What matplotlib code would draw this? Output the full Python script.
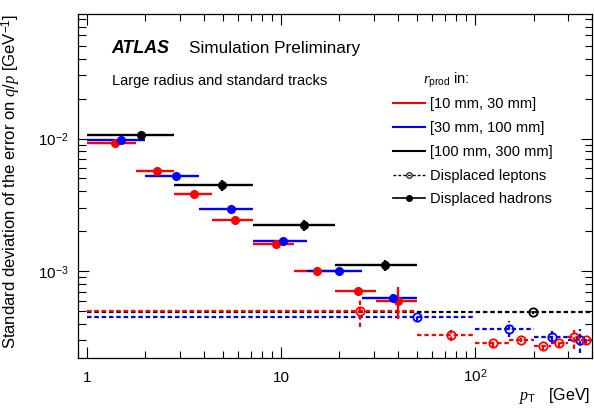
import numpy as np
import matplotlib
matplotlib.use('Agg')
import matplotlib.pyplot as plt
from matplotlib.lines import Line2D
from matplotlib.ticker import FixedLocator, FixedFormatter, LogLocator, NullFormatter

plt.rcParams['font.family'] = ['Liberation Sans', 'DejaVu Sans']
plt.rcParams['mathtext.fontset'] = 'custom'
plt.rcParams['mathtext.rm'] = 'Liberation Sans'
plt.rcParams['mathtext.it'] = 'Liberation Serif:italic'
plt.rcParams['mathtext.bf'] = 'Liberation Sans:bold'

# displaced hadrons (filled markers), bins in pT [GeV]
red_h_lo = [1, 1.8, 2.8, 4.4, 7.2, 11.6, 18.9, 30.9]
red_h_hi = [1.8, 2.8, 4.4, 7.2, 11.6, 18.9, 30.9, 50]
red_h_x = [1.40, 2.30, 3.58, 5.79, 9.4, 15.3, 24.8, 40.0]
red_h_y = [0.00928, 0.00568, 0.00381, 0.00243, 0.00160, 0.000995, 0.000708, 0.000594]
red_h_elo = [0.0004, 0.00015, 0.0001, 0.00006, 0.00005, 0.00007, 0.00002, 0.00016]
red_h_ehi = [0.0004, 0.00015, 0.0001, 0.00006, 0.00005, 0.00007, 0.00002, 0.00017]

blue_h_lo = [1, 2.0, 3.8, 7.2, 13.6, 26.1]
blue_h_hi = [2.0, 3.8, 7.2, 13.6, 26.1, 50]
blue_h_x = [1.49, 2.89, 5.5, 10.3, 19.9, 37.9]
blue_h_y = [0.00983, 0.00518, 0.00294, 0.00169, 0.000995, 0.000629]
blue_h_err = [0.0003, 0.00025, 0.00012, 0.00006, 0.00005, 0.00004]

black_h_lo = [1, 2.8, 7.2, 19]
black_h_hi = [2.8, 7.2, 19, 50]
black_h_x = [1.89, 4.97, 13.1, 34.5]
black_h_y = [0.01066, 0.00443, 0.00222, 0.00111]
black_h_err = [0.0007, 0.0004, 0.0002, 0.0001]

# displaced leptons (open markers)
red_l_lo = [1, 50, 100, 150, 200, 245, 300, 350]
red_l_hi = [50, 100, 150, 200, 245, 300, 350, 400]
red_l_x = [25.4, 75.2, 124, 173, 223, 272, 323, 374]
red_l_y = [0.000500, 0.000327, 0.000286, 0.000301, 0.000274, 0.000286, 0.000317, 0.000301]
red_l_err = [0.00012, 0.00003, 0.00002, 0.00001, 0.00002, 0.00002, 0.00006, 0.00002]

blue_l_lo = [1, 100, 200, 300]
blue_l_hi = [100, 200, 300, 400]
blue_l_x = [50.2, 149, 250, 347]
blue_l_y = [0.000453, 0.000368, 0.000321, 0.000303]
blue_l_err = [0.00003, 0.00005, 0.00003, 0.00006]

black_l_lo = [1]
black_l_hi = [400]
black_l_x = [198]
black_l_y = [0.000489]
black_l_err = [0.00001]

x_tick_vals = [1, 10, 100]
x_tick_labels = ['1', '10', '$10^{2}$']
y_tick_vals = [1e-3, 1e-2]
y_tick_labels = ['$10^{-3}$', '$10^{-2}$']

legend_labels = ['[10 mm, 30 mm]', '[30 mm, 100 mm]', '[100 mm, 300 mm]',
                 'Displaced leptons', 'Displaced hadrons']

W, H = 594, 412
fig = plt.figure(figsize=(W / 100, H / 100), dpi=100)
ax = fig.add_axes([78 / W, 1 - 358.3 / H, 514 / W, 344.3 / H])

dash = (0, (2, 1.3))


def draw(lo, hi, x, y, elo, ehi, color, lepton):
    x = np.array(x)
    xerr = [x - np.array(lo), np.array(hi) - x]
    if lepton:
        eb = ax.errorbar(x, y, xerr=xerr, yerr=[elo, ehi], fmt='o', color=color,
                         mfc='none', mec=color, ms=6, mew=1.3, elinewidth=1.6,
                         capsize=0, zorder=3)
        for c in eb[2]:
            c.set_linestyle(dash)
    else:
        ax.errorbar(x, y, xerr=xerr, yerr=[elo, ehi], fmt='o', color=color,
                    ms=5.5, elinewidth=1.7, capsize=0, zorder=4)


draw(red_h_lo, red_h_hi, red_h_x, red_h_y, red_h_elo, red_h_ehi, 'red', False)
draw(blue_h_lo, blue_h_hi, blue_h_x, blue_h_y, blue_h_err, blue_h_err, 'blue', False)
draw(black_h_lo, black_h_hi, black_h_x, black_h_y, black_h_err, black_h_err, 'black', False)
draw(black_l_lo, black_l_hi, black_l_x, black_l_y, black_l_err, black_l_err, 'black', True)
draw(blue_l_lo, blue_l_hi, blue_l_x, blue_l_y, blue_l_err, blue_l_err, 'blue', True)
draw(red_l_lo, red_l_hi, red_l_x, red_l_y, red_l_err, red_l_err, 'red', True)

ax.set_xscale('log')
ax.set_yscale('log')
ax.set_xlim(0.9, 400)
ax.set_ylim(2.2e-4, 0.087)

ax.xaxis.set_major_locator(FixedLocator(x_tick_vals))
ax.xaxis.set_major_formatter(FixedFormatter(x_tick_labels))
ax.xaxis.set_minor_locator(LogLocator(base=10, subs=np.arange(2, 10), numticks=20))
ax.xaxis.set_minor_formatter(NullFormatter())
ax.yaxis.set_major_locator(FixedLocator(y_tick_vals))
ax.yaxis.set_major_formatter(FixedFormatter(y_tick_labels))
ax.yaxis.set_minor_locator(LogLocator(base=10, subs=np.arange(2, 10), numticks=20))
ax.yaxis.set_minor_formatter(NullFormatter())

ax.tick_params(which='both', direction='in', top=True, right=True, width=0.8)
ax.tick_params(which='major', length=7.7)
ax.tick_params(which='minor', axis='x', length=4.8)
ax.tick_params(which='minor', axis='y', length=5.4)
ax.tick_params(axis='x', labelsize=11, pad=17)
ax.tick_params(axis='y', labelsize=11, pad=6.5)
for s in ax.spines.values():
    s.set_linewidth(0.9)

ax.set_ylabel('Standard deviation of the error on $q/p$ [GeV$^{-1}$]',
              fontsize=12, loc='top')
ax.yaxis.set_label_coords(-(78 - 23) / 514, 1.0)
ax.set_xlabel(r'$p_{\rm T}$   [GeV]', fontsize=11.5, loc='right')
ax.xaxis.set_label_coords(1 - 2 / 514, -(386 - 358.3) / 344.3)


def px(x, y):
    return x / W, 1 - y / H


fig.text(*px(111.7, 52.7), 'ATLAS', fontsize=12.8, fontweight='bold',
         fontstyle='italic', va='baseline')
fig.text(*px(189, 52.7), 'Simulation Preliminary', fontsize=12.3, va='baseline')
fig.text(*px(111.7, 85), 'Large radius and standard tracks', fontsize=10.5,
         va='baseline')
fig.text(*px(423, 84), r'$r_{\rm prod}$ in:', fontsize=10.5, va='baseline')

handles = [
    Line2D([], [], color='red', lw=1.5),
    Line2D([], [], color='blue', lw=1.5),
    Line2D([], [], color='black', lw=1.5),
    Line2D([], [], color='black', lw=1.0, ls=(0, (2, 1.5)), marker='o',
           mfc='none', ms=4, mew=0.8),
    Line2D([], [], color='black', lw=1.2, marker='o', ms=4),
]
fig.legend(handles, legend_labels, loc='upper left',
           bbox_to_anchor=px(386, 90), fontsize=10.5, frameon=False,
           borderpad=0, handlelength=2.17, handletextpad=0.38,
           labelspacing=0.67)

fig.canvas.draw()
for t in ax.xaxis.get_major_ticks():
    t.label1.set_va('baseline')
ax.tick_params(axis='x', pad=(382 - 358.3) * 0.72)

fig.savefig('out.png', dpi=100)
